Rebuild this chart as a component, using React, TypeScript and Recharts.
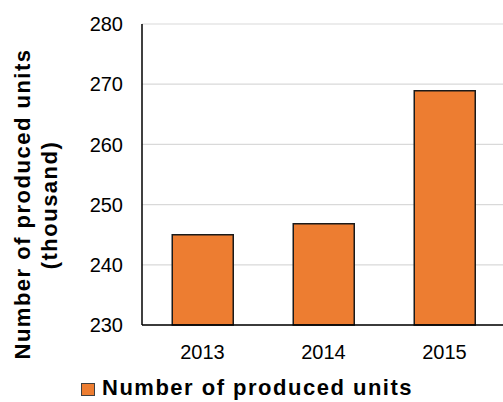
import {
  BarChart,
  Bar,
  XAxis,
  YAxis,
  CartesianGrid,
  Legend,
} from "recharts";

const years = ["2013", "2014", "2015"];
const producedUnits = [245, 246.8, 268.9];
const yTicks = [230, 240, 250, 260, 270, 280];

const seriesName = "Number of produced units";
const barColor = "#ED7D31";
const font = "'Liberation Sans', Arial, sans-serif";

const data = years.map((year, i) => ({ year, units: producedUnits[i] }));

function AxisTitle() {
  const common = {
    fontFamily: font,
    fontSize: 22,
    fontWeight: 700,
    letterSpacing: 1.5,
    fill: "#000",
    textAnchor: "middle" as const,
  };
  return (
    <g>
      <text {...common} x={30} y={204} transform="rotate(-90 30 204)">
        Number of produced units
      </text>
      <text {...common} x={57} y={205} transform="rotate(-90 57 205)">
        (thousand)
      </text>
    </g>
  );
}

function LegendBox() {
  return (
    <div style={{ position: "relative", width: 360, height: 30 }}>
      <span
        style={{
          position: "absolute",
          left: 1,
          top: 13,
          width: 12,
          height: 11,
          background: barColor,
          border: "1px solid #404040",
        }}
      />
      <span
        style={{
          position: "absolute",
          left: 22,
          top: 7,
          fontFamily: font,
          fontSize: 22,
          lineHeight: "22px",
          fontWeight: 700,
          letterSpacing: 1.5,
          color: "#000",
          whiteSpace: "nowrap",
        }}
      >
        {seriesName}
      </span>
    </div>
  );
}

export default function App() {
  return (
    <div
      style={{
        position: "absolute",
        left: 0,
        top: 0,
        width: 503,
        height: 402,
        overflow: "hidden",
        background: "#fff",
      }}
    >
      <BarChart
        width={505}
        height={402}
        data={data}
        margin={{ top: 24, right: 0, left: 0, bottom: 0 }}
        barCategoryGap="25%"
      >
        <CartesianGrid vertical={false} stroke="#d9d9d9" strokeWidth={1.2} />
        <XAxis
          dataKey="year"
          height={47}
          tickSize={0}
          tickMargin={20}
          tickLine={false}
          axisLine={{ stroke: "#000", strokeWidth: 1.5 }}
          tick={{ fill: "#000", fontSize: 20, fontFamily: font }}
        />
        <XAxis
          xAxisId="top"
          dataKey="year"
          orientation="top"
          height={0}
          tick={false}
          tickLine={false}
          axisLine={{ stroke: "#000", strokeWidth: 1.5 }}
        />
        <YAxis
          width={142}
          domain={[230, 280]}
          ticks={yTicks}
          tickSize={0}
          tickMargin={19}
          tickLine={false}
          axisLine={{ stroke: "#000", strokeWidth: 1.5 }}
          tick={{ fill: "#000", fontSize: 20, fontFamily: font }}
          label={{ content: () => <AxisTitle /> }}
        />
        <Legend
          verticalAlign="bottom"
          align="left"
          wrapperStyle={{ left: 80, top: 370, width: "auto" }}
          content={() => <LegendBox />}
        />
        <Bar
          dataKey="units"
          name={seriesName}
          fill={barColor}
          stroke="#1a1a1a"
          strokeWidth={1.5}
          isAnimationActive={false}
        />
      </BarChart>
    </div>
  );
}
